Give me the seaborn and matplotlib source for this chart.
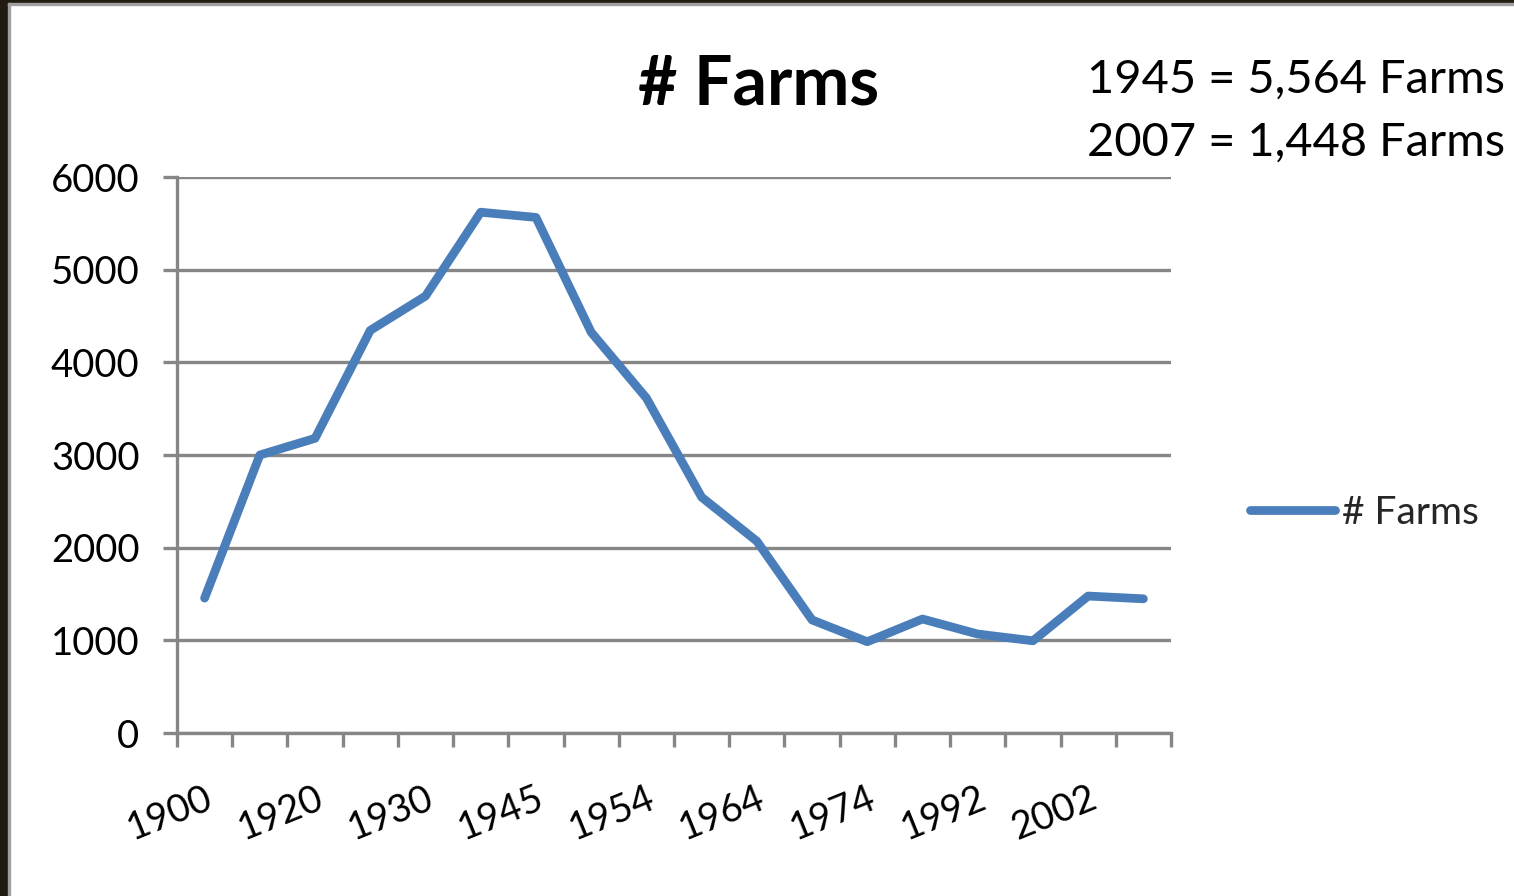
import numpy as np
import pandas as pd
import matplotlib
matplotlib.use("Agg")
import matplotlib.pyplot as plt
from matplotlib.patches import Rectangle
import seaborn as sns

# ---- data ----
years = ["1900", "1910", "1920", "1925", "1930", "1940", "1945", "1950", "1954",
         "1959", "1964", "1969", "1974", "1982", "1992", "1997", "2002", "2007"]
farms = [1456, 3000, 3180, 4345, 4715, 5620, 5564, 4325, 3615,
         2545, 2070, 1220, 985, 1230, 1068, 995, 1478, 1448]
shown_labels = ["1900", "1920", "1930", "1945", "1954", "1964", "1974", "1992", "2002"]
y_ticks = [0, 1000, 2000, 3000, 4000, 5000, 6000]
series_name = "# Farms"
notes = ["1945 = 5,564 Farms", "2007 = 1,448 Farms"]

df = pd.DataFrame({"year": years, "farms": farms})

sns.set_theme(style="white")
plt.rcParams["font.family"] = ["Lato", "DejaVu Sans"]

W, H = 1514, 896
fig = plt.figure(figsize=(W / 100, H / 100), dpi=100)
fig.patch.set_facecolor("white")

ax = fig.add_axes([177 / W, 1 - 733 / H, (1171 - 177) / W, (733 - 177) / H])

line_color = "#4a7ebb"
grid_color = "#868686"

sns.lineplot(data=df, x="year", y="farms", ax=ax, color=line_color,
             linewidth=6.3, label=series_name, sort=False)

ax.set_xlim(-0.5, len(years) - 0.5)
ax.set_ylim(0, 6000)
ax.set_xlabel("")
ax.set_ylabel("")

# y axis
ax.set_yticks(y_ticks)
ax.set_yticklabels([str(v) for v in y_ticks], fontsize=27.5, color="black")
ax.yaxis.grid(True, color=grid_color, linewidth=2.4)
ax.xaxis.grid(False)
ax.tick_params(axis="y", length=10, width=2.4, color=grid_color, pad=17, left=True)

# x axis: labels every other category, ticks at category boundaries
pos = [years.index(l) for l in shown_labels]
ax.set_xticks(pos)
ax.set_xticklabels(shown_labels, fontsize=27.5, color="black", rotation=22,
                   ha="right", rotation_mode="anchor")
ax.tick_params(axis="x", which="major", length=0, pad=34)
ax.set_xticks(np.arange(-0.5, len(years), 1.0), minor=True)
ax.tick_params(axis="x", which="minor", length=10, width=2.4, color=grid_color,
               bottom=True, direction="out")

for s in ["top", "right"]:
    ax.spines[s].set_visible(False)
for s in ["left", "bottom"]:
    ax.spines[s].set_color(grid_color)
    ax.spines[s].set_linewidth(2.4)

# legend
leg = ax.legend(loc="center left", bbox_to_anchor=(1234 / W, 1 - 513 / H),
                bbox_transform=fig.transFigure, frameon=False, fontsize=28,
                handlelength=2.2, handletextpad=0.18, borderaxespad=0)

# title
fig.text(759 / W, 1 - 85 / H, series_name, fontsize=49, fontweight="bold",
         ha="center", va="center", color="black")

# notes
for i, t in enumerate(notes):
    fig.text(1087 / W, 1 - (80 + 63 * i) / H, t, fontsize=33.8, ha="left",
             va="center", color="black")

# screenshot frame (dark strip on left and top)
dark = "#201c12"
fig.patches.append(Rectangle((0, 0), 8 / W, 1, transform=fig.transFigure,
                             color=dark, zorder=10))
fig.patches.append(Rectangle((0, 1 - 3 / H), 1, 3 / H, transform=fig.transFigure,
                             color=dark, zorder=10))
fig.patches.append(Rectangle((8 / W, 0), 2 / W, 1 - 3 / H, transform=fig.transFigure,
                             color="#a0a0a0", zorder=10))
fig.patches.append(Rectangle((8 / W, 1 - 5 / H), 1, 2 / H, transform=fig.transFigure,
                             color="#a0a0a0", zorder=10))

fig.savefig("out.png", dpi=100)
